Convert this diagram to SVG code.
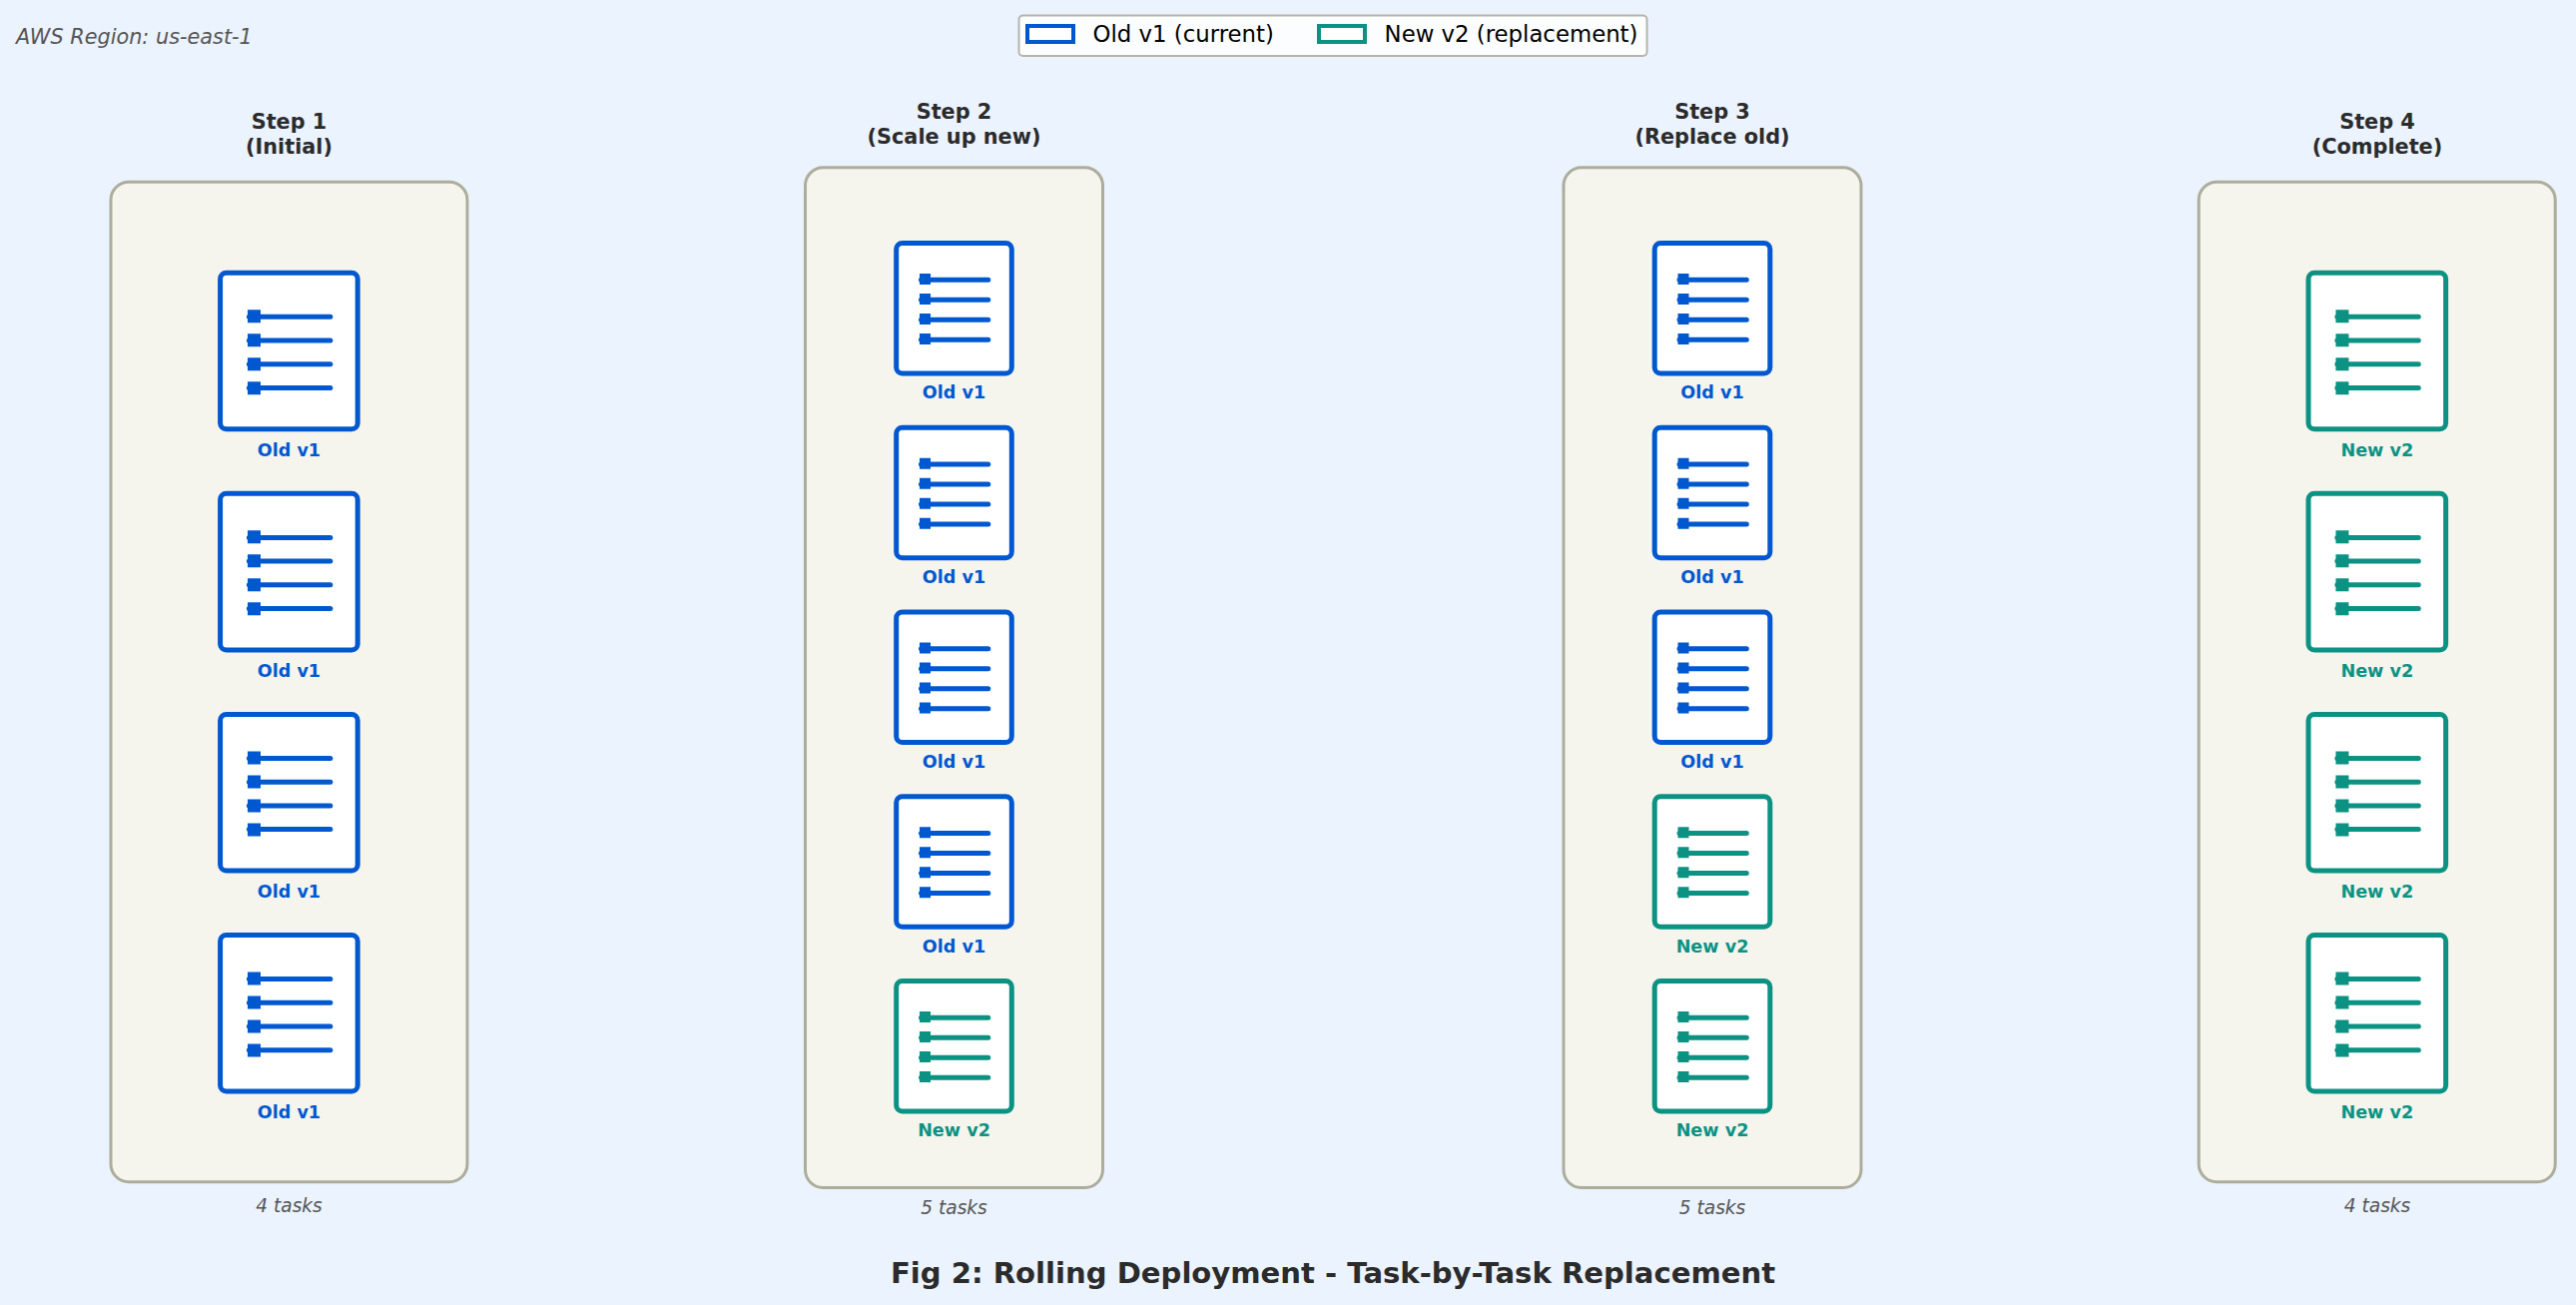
<svg xmlns="http://www.w3.org/2000/svg" xmlns:xlink="http://www.w3.org/1999/xlink" width="2580" height="1307" viewBox="0 0 2580 1307">
<style>
text{font-family:"DejaVu Sans",sans-serif;text-anchor:middle}
.old{color:#0058d0}.new{color:#0c9283}
.lbl{font-size:17.6px;font-weight:700;fill:currentColor}
.step{font-size:20.8px;font-weight:700;fill:#2b2b2b}
.cnt{font-size:18.6px;font-style:italic;fill:#555}
.panel{fill:#f5f5ee;stroke:#adad9c;stroke-width:3}
.box{fill:#fff;stroke:currentColor;stroke-width:5}
.ln{stroke:currentColor;stroke-width:5;stroke-linecap:round;fill:none}
.sq{fill:currentColor}
.leg{font-size:22.8px;fill:#000;text-anchor:start}
.patch{fill:#fff;stroke:currentColor;stroke-width:4}
</style>
<defs>
<g id="L">
<rect class="box" x="-68.8" y="0" width="137.6" height="156.6" rx="6"/>
<path class="ln" d="M-40 44.1H41.5M-40 67.8H41.5M-40 91.5H41.5M-40 115.2H41.5"/>
<path class="sq" d="M-41.4 37h13v13h-13zM-41.4 61h13v13h-13zM-41.4 85h13v13h-13zM-41.4 109h13v13h-13z"/>
</g>
<g id="S">
<rect class="box" x="-57.8" y="0" width="115.6" height="130.6" rx="6"/>
<path class="ln" d="M-33 36.8H34.3M-33 56.8H34.3M-33 76.8H34.3M-33 96.8H34.3"/>
<path class="sq" d="M-34.5 30.5h11v11h-11zM-34.5 50.5h11v11h-11zM-34.5 70.5h11v11h-11zM-34.5 90.5h11v11h-11z"/>
</g>
</defs>
<rect width="2580" height="1307" fill="#ebf3ff"/>
<text x="16" y="43.7" style="text-anchor:start;font-size:20.8px;font-style:italic;fill:#555">AWS Region: us-east-1</text>
<g id="legend">
<rect x="1020.5" y="15.5" width="629" height="40.5" rx="4" fill="#fbfdff" stroke="#b5b5a8" stroke-width="2"/>
<g class="old"><rect class="patch" x="1029" y="26" width="46" height="16"/><text class="leg" x="1094.6" y="42">Old v1 (current)</text></g>
<g class="new"><rect class="patch" x="1321" y="26" width="46" height="16"/><text class="leg" x="1386.6" y="42">New v2 (replacement)</text></g>
</g>
<g id="step1">
<text class="step" x="289.5" y="129.3">Step 1</text><text class="step" x="289.5" y="154">(Initial)</text>
<rect class="panel" x="111" y="182.2" width="357" height="1001.6" rx="18"/>
<g id="s1-t1" class="old"><use href="#L" x="289.4" y="273.2"/><text class="lbl" x="289.4" y="456.7">Old v1</text></g>
<g id="s1-t2" class="old"><use href="#L" x="289.4" y="494.3"/><text class="lbl" x="289.4" y="677.8">Old v1</text></g>
<g id="s1-t3" class="old"><use href="#L" x="289.4" y="715.4"/><text class="lbl" x="289.4" y="898.9">Old v1</text></g>
<g id="s1-t4" class="old"><use href="#L" x="289.4" y="936.5"/><text class="lbl" x="289.4" y="1120">Old v1</text></g>
<text class="cnt" x="289.5" y="1213.5">4 tasks</text>
</g>
<g id="step2">
<text class="step" x="955.5" y="119">Step 2</text><text class="step" x="955.5" y="143.5">(Scale up new)</text>
<rect class="panel" x="806.5" y="167.8" width="298" height="1021.7" rx="18"/>
<g id="s2-t1" class="old"><use href="#S" x="955.5" y="243.5"/><text class="lbl" x="955.5" y="399.3">Old v1</text></g>
<g id="s2-t2" class="old"><use href="#S" x="955.5" y="428.25"/><text class="lbl" x="955.5" y="584">Old v1</text></g>
<g id="s2-t3" class="old"><use href="#S" x="955.5" y="613"/><text class="lbl" x="955.5" y="768.8">Old v1</text></g>
<g id="s2-t4" class="old"><use href="#S" x="955.5" y="797.75"/><text class="lbl" x="955.5" y="953.5">Old v1</text></g>
<g id="s2-t5" class="new"><use href="#S" x="955.5" y="982.5"/><text class="lbl" x="955.5" y="1138.3">New v2</text></g>
<text class="cnt" x="955.5" y="1216.2">5 tasks</text>
</g>
<g id="step3">
<text class="step" x="1715" y="119">Step 3</text><text class="step" x="1715" y="143.5">(Replace old)</text>
<rect class="panel" x="1566" y="167.8" width="298" height="1021.7" rx="18"/>
<g id="s3-t1" class="old"><use href="#S" x="1715" y="243.5"/><text class="lbl" x="1715" y="399.3">Old v1</text></g>
<g id="s3-t2" class="old"><use href="#S" x="1715" y="428.25"/><text class="lbl" x="1715" y="584">Old v1</text></g>
<g id="s3-t3" class="old"><use href="#S" x="1715" y="613"/><text class="lbl" x="1715" y="768.8">Old v1</text></g>
<g id="s3-t4" class="new"><use href="#S" x="1715" y="797.75"/><text class="lbl" x="1715" y="953.5">New v2</text></g>
<g id="s3-t5" class="new"><use href="#S" x="1715" y="982.5"/><text class="lbl" x="1715" y="1138.3">New v2</text></g>
<text class="cnt" x="1715" y="1216.2">5 tasks</text>
</g>
<g id="step4">
<text class="step" x="2381" y="129.3">Step 4</text><text class="step" x="2381" y="154">(Complete)</text>
<rect class="panel" x="2202.2" y="182.2" width="357" height="1001.6" rx="18"/>
<g id="s4-t1" class="new"><use href="#L" x="2380.8" y="273.2"/><text class="lbl" x="2380.8" y="456.7">New v2</text></g>
<g id="s4-t2" class="new"><use href="#L" x="2380.8" y="494.3"/><text class="lbl" x="2380.8" y="677.8">New v2</text></g>
<g id="s4-t3" class="new"><use href="#L" x="2380.8" y="715.4"/><text class="lbl" x="2380.8" y="898.9">New v2</text></g>
<g id="s4-t4" class="new"><use href="#L" x="2380.8" y="936.5"/><text class="lbl" x="2380.8" y="1120">New v2</text></g>
<text class="cnt" x="2381" y="1213.5">4 tasks</text>
</g>
<text x="1335" y="1285" style="font-size:29.1px;font-weight:700;fill:#2b2b2b">Fig 2: Rolling Deployment - Task-by-Task Replacement</text>
</svg>
